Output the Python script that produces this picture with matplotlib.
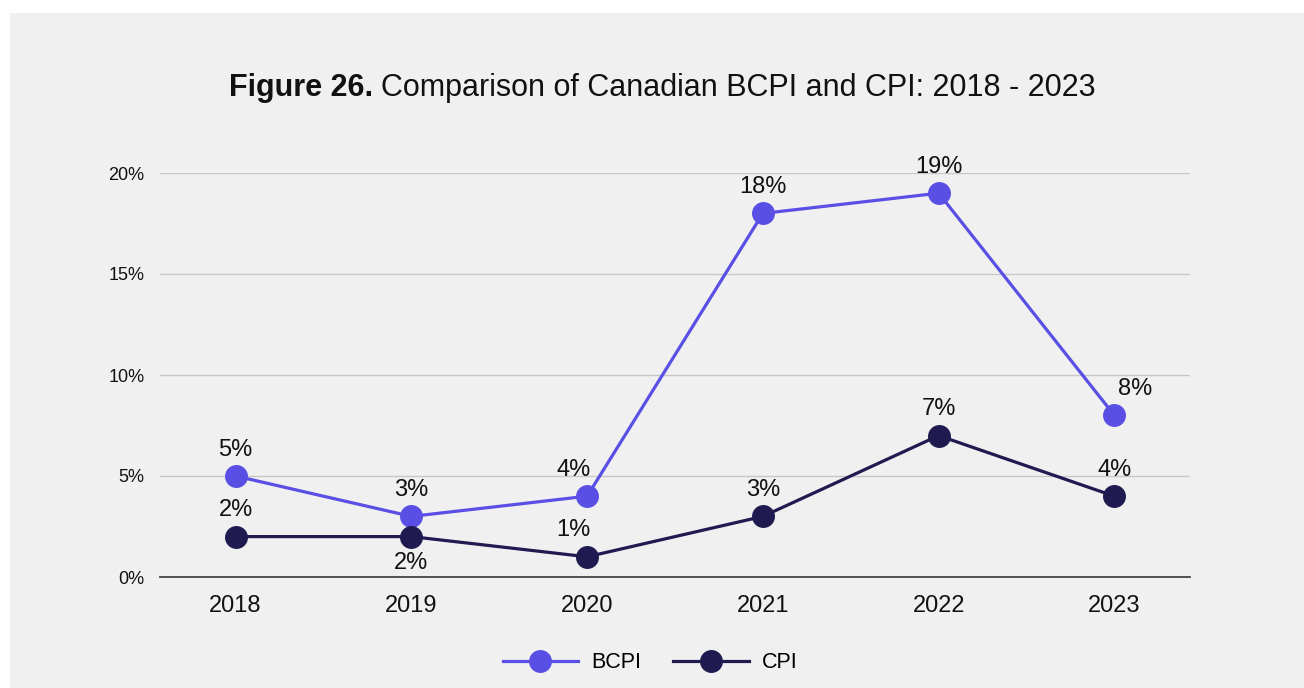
import matplotlib
matplotlib.use("Agg")
from matplotlib import pyplot as plt
from matplotlib.patches import Rectangle

years = ["2018", "2019", "2020", "2021", "2022", "2023"]
bcpi = [5, 3, 4, 18, 19, 8]
cpi = [2, 2, 1, 3, 7, 4]

bcpi_color = "#5a4fe4"
cpi_color = "#1f1a4f"
bg = "#f0f0f0"

plt.rcParams['font.family'] = ['Liberation Sans', 'DejaVu Sans']

fig = plt.figure(figsize=(13.04, 6.88), dpi=100)
fig.patch.set_facecolor("white")
fig.patches.append(Rectangle((10 / 1304, 0), 1, 1 - 13 / 688, transform=fig.transFigure,
                             facecolor=bg, edgecolor="none", zorder=-10))

ax = fig.add_axes([160 / 1304, 1 - 577 / 688, 1030 / 1304, 404 / 688])
ax.set_facecolor(bg)

x = range(len(years))
ax.plot(x, bcpi, color=bcpi_color, lw=2.3, marker="o", ms=15.5, label="BCPI", zorder=3)
ax.plot(x, cpi, color=cpi_color, lw=2.3, marker="o", ms=15.5, label="CPI", zorder=4)

# data labels (offsets in points)
bcpi_off = [(0, 19), (0, 19), (-10, 19), (0, 19), (0, 19), (15, 19)]
cpi_off = [(0, 19), (0, -19), (-10, 19), (0, 19), (0, 19), (0, 19)]
for i, v in enumerate(bcpi):
    ax.annotate("{}%".format(v), (i, v), xytext=bcpi_off[i], textcoords="offset points",
                ha="center", va="center", fontsize=17, color="#111111", zorder=5)
for i, v in enumerate(cpi):
    ax.annotate("{}%".format(v), (i, v), xytext=cpi_off[i], textcoords="offset points",
                ha="center", va="center", fontsize=17, color="#111111", zorder=5)

ax.set_xlim(-0.43, 5.43)
ax.set_ylim(0, 20)
ax.set_xticks(list(x))
ax.set_xticklabels(years, fontsize=17, color="#111111")
ax.set_yticks([0, 5, 10, 15, 20])
ax.set_yticklabels(["{}%".format(t) for t in [0, 5, 10, 15, 20]], fontsize=13, color="#111111")
ax.tick_params(axis="both", length=0)
ax.tick_params(axis="x", pad=13)
ax.tick_params(axis="y", pad=11)

ax.grid(axis="y", color="#c8c8c8", lw=1)
ax.set_axisbelow(True)
for s in ["top", "right", "left"]:
    ax.spines[s].set_visible(False)
ax.spines["bottom"].set_color("#444444")
ax.spines["bottom"].set_linewidth(1.3)
ax.spines["bottom"].set_zorder(2)

# title: bold lead + regular text
fig.text(373 / 1304, 1 - 88 / 688, "Figure 26.", fontsize=22, fontweight="bold",
         ha="right", va="center", color="#111111")
fig.text(381 / 1304, 1 - 88 / 688, "Comparison of Canadian BCPI and CPI: 2018 - 2023",
         fontsize=22, ha="left", va="center", color="#111111")

fig.legend(loc="center", bbox_to_anchor=(650 / 1304, 1 - 663 / 688), ncol=2, frameon=False,
           fontsize=15.5, handlelength=3.5, columnspacing=1.5, handletextpad=0.6)

fig.savefig("out.png", dpi=100, facecolor=fig.get_facecolor())
